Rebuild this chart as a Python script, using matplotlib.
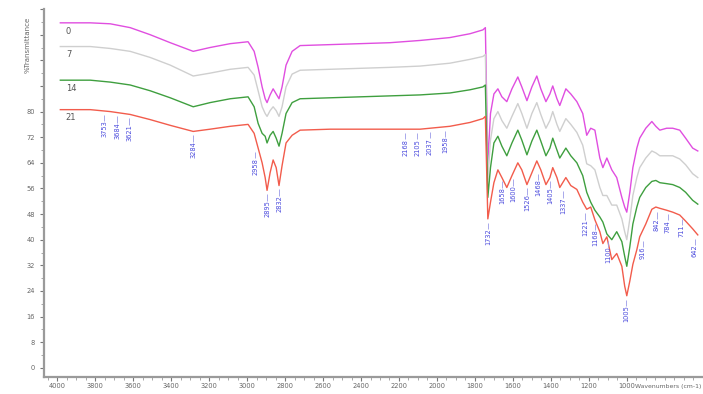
"""
FTIR spectra of the samples after 0, 7, 14 and 21 days
"""

import numpy as np
import matplotlib.pyplot as plt
from matplotlib.ticker import MultipleLocator, FixedLocator

# Wavenumbers (cm-1) shared by all four spectra
wavenumbers = [3984, 3826, 3721, 3616, 3511, 3405, 3284, 3195, 3089, 2995,
               2963, 2942, 2921, 2905, 2895, 2879, 2863, 2847, 2832, 2816,
               2795, 2763, 2721, 2563, 2405, 2247, 2089, 1932, 1826, 1758,
               1745,
               1732, 1718, 1700, 1679, 1658, 1632, 1605, 1574, 1553, 1526,
               1500, 1474, 1453, 1426, 1405, 1390, 1368, 1353, 1321, 1295,
               1263, 1232, 1211, 1190, 1168, 1142, 1126, 1105, 1079, 1053,
               1026, 1011, 1000, 984, 968, 947, 932, 900, 868, 847,
               826, 790, 758, 721, 690, 653, 626]

# %Transmittance of each sample (stacked as recorded)
t_day0 = [107.7, 107.7, 107.4, 106.2, 104.0, 101.5, 98.8, 100.0, 101.2, 101.8,
          98.8, 93.8, 87.7, 84.0, 82.8, 85.2, 87.1, 85.5, 84.0, 87.7,
          94.5, 98.8, 100.6, 100.9, 101.2, 101.5, 102.2, 103.1, 104.3, 105.5,
          106.2,
          64.0, 79.4, 85.5, 87.1, 84.6, 83.1, 87.1, 90.8, 87.7, 83.4,
          87.7, 91.1, 87.1, 83.1, 85.5, 88.0, 84.0, 81.9, 87.1, 85.5,
          83.1, 79.4, 72.6, 74.8, 74.2, 65.5, 62.5, 65.5, 61.8, 59.4,
          53.2, 50.2, 48.6, 54.8, 62.5, 68.6, 71.7, 74.8, 76.9, 75.4,
          74.2, 74.8, 74.8, 74.2, 71.7, 68.6, 67.7]

t_day7 = [100.3, 100.3, 99.7, 98.8, 96.9, 94.5, 91.1, 92.0, 93.2, 93.8,
          91.4, 86.5, 81.5, 79.4, 78.5, 80.3, 81.5, 80.3, 78.5, 81.5,
          87.7, 91.7, 92.9, 93.2, 93.5, 93.8, 94.2, 95.1, 96.3, 97.2,
          97.8,
          58.8, 71.1, 77.8, 80.0, 77.2, 74.8, 78.5, 82.5, 79.4, 74.8,
          79.4, 82.8, 79.1, 74.8, 77.2, 80.0, 76.0, 73.8, 77.8, 76.0,
          73.5, 69.5, 63.7, 63.1, 61.8, 56.3, 53.8, 53.8, 50.8, 50.8,
          46.5, 42.5, 40.0, 46.5, 53.8, 59.4, 62.5, 65.5, 67.7, 67.1,
          66.2, 66.2, 66.2, 65.2, 63.4, 60.6, 59.4]

t_day14 = [89.8, 89.8, 89.2, 88.3, 86.5, 84.3, 81.5, 82.8, 84.0, 84.6,
           81.5, 76.3, 73.2, 72.3, 70.2, 72.6, 73.8, 71.7, 69.2, 73.2,
           79.4, 82.8, 84.0, 84.3, 84.6, 84.9, 85.2, 85.8, 86.8, 87.7,
           88.3,
           53.2, 62.5, 70.2, 72.3, 69.2, 66.2, 70.2, 74.2, 71.1, 66.5,
           70.8, 74.2, 70.8, 66.2, 68.6, 71.7, 68.0, 65.5, 68.6, 66.2,
           64.0, 60.0, 54.8, 51.7, 49.2, 47.1, 45.5, 41.8, 40.0, 42.5,
           39.4, 34.8, 31.7, 37.8, 44.9, 50.2, 53.2, 56.3, 58.2, 58.5,
           57.8, 57.5, 57.2, 56.3, 54.8, 52.3, 51.1]

t_day21 = [80.6, 80.6, 80.0, 79.1, 77.5, 75.7, 73.8, 74.5, 75.4, 76.0,
           73.2, 68.6, 64.0, 59.4, 55.4, 60.9, 64.9, 62.5, 56.9, 63.1,
           70.2, 72.6, 74.2, 74.5, 74.5, 74.5, 74.5, 75.4, 76.6, 77.8,
           78.5,
           46.5, 51.7, 57.8, 61.8, 59.4, 56.3, 60.0, 64.0, 61.8, 57.2,
           60.9, 64.6, 61.8, 57.2, 59.4, 62.5, 59.4, 56.3, 59.4, 56.9,
           55.7, 51.7, 49.5, 50.2, 46.2, 42.5, 38.8, 40.9, 33.8, 35.7,
           31.7, 25.5, 22.5, 27.1, 32.3, 36.9, 40.9, 44.9, 49.5, 50.2,
           49.8, 49.2, 48.6, 47.7, 45.8, 43.4, 41.5]

day_labels = ['0', '7', '14', '21']

# Peak positions marked on the day 21 spectrum
peaks = [3753, 3684, 3621, 3284, 2958, 2895, 2832, 2168, 2105, 2037, 1958,
         1732, 1658, 1600, 1526, 1468, 1405, 1337, 1221, 1168, 1100, 1005,
         916, 842, 784, 711, 642]

spectra = [t_day0, t_day7, t_day14, t_day21]
colors = ['#e04ee0', '#cfcfcf', '#3f9f3f', '#f25c4c']

fig = plt.figure(figsize=(7.03, 3.94), dpi=100)
ax = fig.add_axes([0.0626, 0.042, 0.937, 0.935])

wn = np.array(wavenumbers, dtype=float)
for t, c in zip(spectra, colors):
    ax.plot(wn, t, color=c, lw=1.0)

# Sample names next to the start of each trace
for lbl, t in zip(day_labels, spectra):
    ax.text(3955, t[0] - 1.2, lbl, fontsize=6, color='#555555',
            ha='left', va='top')

# Peak labels below the day 21 trace
red = np.array(t_day21)
for p in peaks:
    near = red[np.abs(wn - p) <= 20]
    base = near.min() if len(near) else np.interp(p, wn[::-1], red[::-1])
    ax.vlines(p, base - 3.2, base - 1.2, color='#9a9ae8', lw=0.6)
    ax.text(p, base - 3.0, str(p), rotation=90, fontsize=4.8,
            color='#4b4bdd', ha='center', va='top')

ax.set_xlim(4070, 600)
ax.set_ylim(-3, 112)

ax.xaxis.set_major_locator(FixedLocator(np.arange(4000, 999, -200)))
ax.xaxis.set_minor_locator(MultipleLocator(50))
ax.yaxis.set_major_locator(MultipleLocator(8))
ax.yaxis.set_minor_locator(MultipleLocator(4))
ax.set_yticklabels([str(int(v)) if 0 <= v <= 80 else ''
                    for v in ax.get_yticks()])

ax.tick_params(axis='both', which='major', labelsize=4.8, colors='#777777',
               length=3, width=0.8, labelcolor='#666666')
ax.tick_params(axis='x', which='major', pad=1)
ax.tick_params(axis='both', which='minor', length=2, width=0.6,
               colors='#999999')

for side in ['top', 'right']:
    ax.spines[side].set_visible(False)
for side in ['left', 'bottom']:
    ax.spines[side].set_color('#9a9a9a')
    ax.spines[side].set_linewidth(1.6)

fig.text(0.040, 0.885, '%Transmittance', rotation=90, fontsize=5,
         color='#666666', ha='center', va='center')
fig.text(0.998, 0.020, 'Wavenumbers (cm-1)', fontsize=4.4, color='#666666',
         ha='right', va='center')

plt.savefig('out.png', dpi=100)
